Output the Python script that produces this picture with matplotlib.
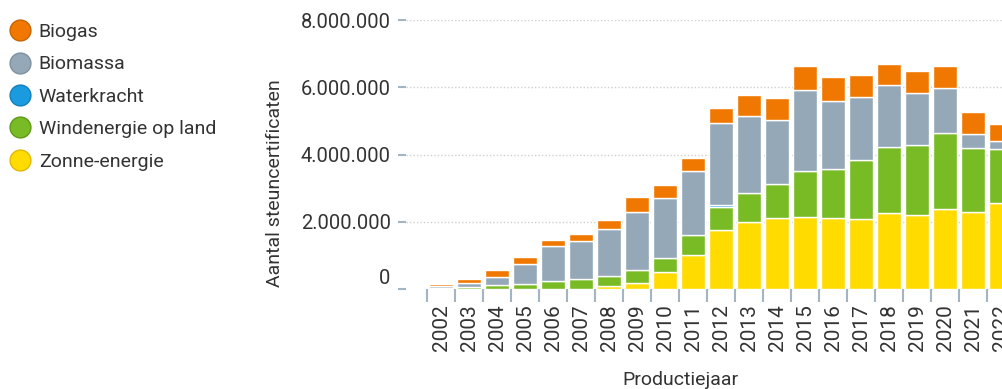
import numpy as np
import matplotlib
matplotlib.use("Agg")
import matplotlib.pyplot as plt
from matplotlib.lines import Line2D
from matplotlib.ticker import FuncFormatter, FixedLocator
import matplotlib.transforms as mtransforms

plt.rcParams['font.family'] = ['Roboto', 'DejaVu Sans']

# Aantal steuncertificaten per productiejaar en technologie
years = list(range(2002, 2023))
zonne = [0, 0, 0, 0, 0, 0, 89e3, 170e3, 515e3, 1020e3, 1755e3, 1984e3, 2120e3,
         2150e3, 2103e3, 2073e3, 2251e3, 2201e3, 2379e3, 2281e3, 2567e3]
wind = [40e3, 70e3, 128e3, 158e3, 238e3, 297e3, 297e3, 396e3, 416e3, 586e3, 675e3,
        862e3, 993e3, 1368e3, 1475e3, 1764e3, 1981e3, 2082e3, 2269e3, 1921e3, 1597e3]
water = [0, 0, 0, 0, 0, 0, 0, 0, 0, 0, 60e3, 0, 0, 0, 0, 0, 0, 0, 0, 0, 0]
biomassa = [50e3, 120e3, 220e3, 586e3, 1050e3, 1130e3, 1407e3, 1734e3, 1775e3, 1912e3,
            2448e3, 2308e3, 1912e3, 2400e3, 2022e3, 1865e3, 1835e3, 1555e3, 1320e3,
            407e3, 238e3]
biogas = [50e3, 100e3, 208e3, 208e3, 170e3, 208e3, 259e3, 428e3, 387e3, 387e3, 458e3,
          616e3, 645e3, 714e3, 714e3, 663e3, 616e3, 654e3, 663e3, 663e3, 506e3]

# bottom to top
series = [("Zonne-energie", zonne, "#ffdb00", "#e0b800"),
          ("Windenergie op land", wind, "#78bb25", "#5e9a18"),
          ("Waterkracht", water, "#1a9be0", "#1580bb"),
          ("Biomassa", biomassa, "#94a8b8", "#7d91a2"),
          ("Biogas", biogas, "#f07800", "#c86300")]
legend_order = ["Biogas", "Biomassa", "Waterkracht", "Windenergie op land", "Zonne-energie"]

text_col = "#333333"
axis_col = "#a3b4c2"

fig = plt.figure(figsize=(10.03, 3.89), dpi=100)
ax = fig.add_axes([406/1003, 1-289/389, 1-406/1003, (289-20)/389])

x = np.arange(len(years))
bottom = np.zeros(len(years))
for name, vals, col, _ in series:
    vals = np.array(vals)
    # no white outline on empty segments
    lw = np.where(vals > 0, 1.0, 0.0)
    ax.bar(x, vals, width=0.88, bottom=bottom, color=col, edgecolor="white",
           linewidth=lw, zorder=3)
    bottom += vals

ax.set_xlim(-1.25, 20.07)
ax.set_ylim(0, 8e6)

for s in ax.spines.values():
    s.set_visible(False)

# y axis
ax.set_yticks([0, 2e6, 4e6, 6e6, 8e6])
ax.yaxis.set_major_formatter(FuncFormatter(lambda v, p: f"{int(v):,}".replace(",", ".")))
ax.tick_params(axis='y', length=6, width=1.5, color=axis_col, labelcolor=text_col,
               labelsize=14.5, pad=5)
for g in [2e6, 4e6, 6e6, 8e6]:
    ax.axhline(g, color="#cfcfcf", linestyle=(0, (1, 1.5)), linewidth=1.0, zorder=1)
# lift the zero label off the baseline
lab0 = ax.get_yticklabels()[0]
lab0.set_transform(lab0.get_transform() +
                   mtransforms.ScaledTranslation(0, 13/100, fig.dpi_scale_trans))

# x axis: labels at bar centres, ticks on category boundaries
ax.set_xticks(x)
ax.set_xticklabels([str(y) for y in years], rotation=90)
ax.xaxis.set_minor_locator(FixedLocator(x - 0.5))
ax.tick_params(axis='x', which='major', length=0, labelcolor=text_col, labelsize=15, pad=11)
ax.tick_params(axis='x', which='minor', length=9, width=1.5, color=axis_col)

fig.text(275/1003, 1-183/389, "Aantal steuncertificaten", rotation=90,
         ha='center', va='center', fontsize=14, color=text_col)
fig.text(680/1003, 1-380/389, "Productiejaar", ha='center', va='center',
         fontsize=14, color=text_col)

# legend
lookup = {name: (col, ec) for name, _, col, ec in series}
handles = [Line2D([], [], linestyle='none', marker='o', markersize=15,
                  markerfacecolor=lookup[n][0], markeredgecolor=lookup[n][1],
                  markeredgewidth=1.0) for n in legend_order]
leg = fig.legend(handles, legend_order, loc='upper left',
                 bbox_to_anchor=(10/1003, 1-23/389), frameon=False, fontsize=14,
                 handlelength=1.0, handletextpad=0.48, labelspacing=0.74,
                 borderpad=0, borderaxespad=0)
for t in leg.get_texts():
    t.set_color(text_col)

fig.savefig("out.png", dpi=100)
